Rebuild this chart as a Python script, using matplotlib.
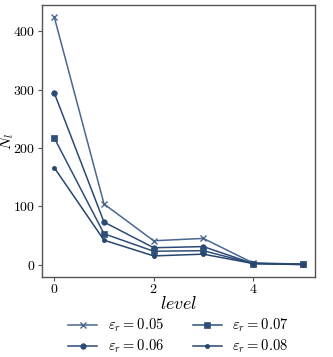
import matplotlib
matplotlib.use('Agg')
import matplotlib.pyplot as plt

plt.rcParams['font.family'] = 'serif'
plt.rcParams['font.serif'] = ['cmr10']
plt.rcParams['mathtext.fontset'] = 'cm'
plt.rcParams['axes.formatter.use_mathtext'] = True

# data
levels = [0, 1, 2, 3, 4, 5]
n_005 = [424, 104, 41, 45, 3, 1]
n_006 = [294, 73, 29, 31, 2, 1]
n_007 = [217, 53, 23, 24, 2, 0.5]
n_008 = [166, 42, 15, 18, 2, 0]
eps_labels = ['0.05', '0.06', '0.07', '0.08']

series = [n_005, n_006, n_007, n_008]
colors = ['#4a6790', '#2b4a75', '#2f4f7a', '#27466f']
markers = ['x', 'o', 's', 'o']
msizes = [4, 4, 4.5, 3]

fig = plt.figure(figsize=(3.33, 3.57), dpi=100)
ax = fig.add_axes([0.126, 0.224, 0.820, 0.762])

for vals, c, m, ms, lab in zip(series, colors, markers, msizes, eps_labels):
    ax.plot(levels, vals, color=c, marker=m, markersize=ms, linewidth=1.1,
            markeredgewidth=1.0 if m == 'x' else 0.5,
            label=r'$\varepsilon_r = %s$' % lab)

ax.set_xticks([0, 2, 4])
ax.set_yticks([0, 100, 200, 300, 400])
ax.tick_params(labelsize=10, length=3, width=0.8, color='#555555', pad=1.5)
for s in ax.spines.values():
    s.set_color('#555555')
    s.set_linewidth(1.0)

ax.set_xlabel(r'$level$', fontsize=13, labelpad=-1)
ax.set_ylabel(r'$N_l$', fontsize=11)
ax.yaxis.set_label_coords(-0.096, 0.5)

ax.legend(loc='upper center', bbox_to_anchor=(0.5, -0.125), ncol=2,
          frameon=False, fontsize=10.5, handlelength=2.0, columnspacing=2.0,
          labelspacing=0.25, handletextpad=0.7, borderaxespad=0)

plt.savefig('out.png', dpi=100)
